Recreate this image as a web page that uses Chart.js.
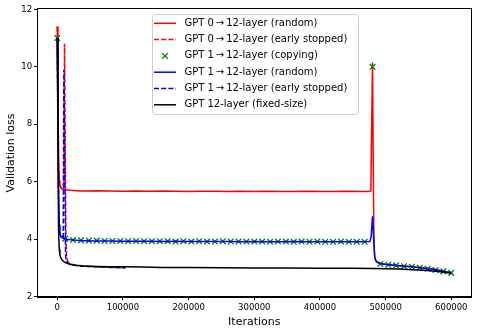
<!DOCTYPE html>
<html><head><meta charset="utf-8">
<script src="https://cdn.jsdelivr.net/npm/chart.js@4/dist/chart.umd.min.js"></script>
<style>html,body{margin:0;padding:0;background:#fff}</style>
</head><body>
<canvas id="c" width="478" height="332" style="width:478px;height:332px;display:block"></canvas>
<script>
// ---------------- data ----------------
const legendLabels = [
  'GPT 0\u2009\u2192\u200912-layer (random)',
  'GPT 0\u2009\u2192\u200912-layer (early stopped)',
  'GPT 1\u2009\u2192\u200912-layer (copying)',
  'GPT 1\u2009\u2192\u200912-layer (random)',
  'GPT 1\u2009\u2192\u200912-layer (early stopped)',
  'GPT 12-layer (fixed-size)'
];
const xTicks = [0, 100000, 200000, 300000, 400000, 500000, 600000];
const yTicks = [2, 4, 6, 8, 10, 12];

// GPT 0 -> 12-layer (random)
const itersRed = [0, 1000, 2000, 3000, 4000, 6000, 8000, 10000, 15000, 20000, 30000, 40000, 60000, 80000, 100000, 120000, 140000, 160000, 180000, 200000, 220000, 240000, 260000, 280000, 300000, 320000, 340000, 360000, 380000, 400000, 420000, 440000, 460000, 474000, 477500, 480000, 482000, 483000, 484000, 486000, 490000, 500000, 510000, 520000, 530000, 540000, 550000, 560000, 570000, 580000, 590000, 600000];
const lossRed  = [11.4, 8.9, 6.6, 6.05, 5.88, 5.78, 5.74, 5.72, 5.71, 5.70, 5.69, 5.68, 5.69, 5.68, 5.67, 5.68, 5.67, 5.68, 5.67, 5.66, 5.67, 5.67, 5.66, 5.67, 5.66, 5.67, 5.66, 5.66, 5.67, 5.66, 5.66, 5.67, 5.66, 5.66, 5.68, 10.15, 4.2, 3.5, 3.3, 3.22, 3.17, 3.13, 3.10, 3.08, 3.06, 3.04, 3.02, 2.99, 2.96, 2.92, 2.88, 2.83];

// GPT 0 -> 12-layer (early stopped)
const itersRedES = [0, 1000, 2000, 3000, 4000, 6000, 8000, 10000, 11000, 12000, 13000, 14000, 16000, 20000, 25000, 30000, 40000, 50000, 60000, 70000, 80000, 90000, 102000];
const lossRedES  = [11.4, 8.9, 6.6, 6.05, 5.88, 5.78, 5.74, 5.72, 10.8, 7.5, 4.4, 3.38, 3.22, 3.14, 3.11, 3.09, 3.07, 3.05, 3.04, 3.03, 3.03, 3.02, 3.01];

// GPT 1 -> 12-layer (copying)  (markers only)
const itersCopy = [0, 12000, 24000, 36000, 48000, 60000, 72000, 84000, 96000, 108000, 120000, 132000, 144000, 156000, 168000, 180000, 192000, 204000, 216000, 228000, 240000, 252000, 264000, 276000, 288000, 300000, 312000, 324000, 336000, 348000, 360000, 372000, 384000, 396000, 408000, 420000, 432000, 444000, 456000, 468000, 480000, 492000, 504000, 516000, 528000, 540000, 552000, 564000, 576000, 588000, 600000];
const lossCopy  = [11.0, 4.02, 3.97, 3.96, 3.95, 3.95, 3.94, 3.94, 3.94, 3.93, 3.94, 3.93, 3.93, 3.93, 3.93, 3.92, 3.93, 3.92, 3.93, 3.92, 3.92, 3.93, 3.92, 3.92, 3.92, 3.92, 3.92, 3.91, 3.92, 3.92, 3.91, 3.92, 3.91, 3.92, 3.91, 3.91, 3.92, 3.91, 3.91, 3.91, 10.0, 3.14, 3.11, 3.09, 3.06, 3.04, 3.01, 2.97, 2.93, 2.88, 2.83];

// GPT 1 -> 12-layer (random)
const itersBlue = [0, 1000, 2000, 3000, 4000, 5000, 6000, 8000, 10000, 14000, 20000, 30000, 40000, 60000, 80000, 100000, 120000, 140000, 160000, 180000, 200000, 220000, 240000, 260000, 280000, 300000, 320000, 340000, 360000, 380000, 400000, 420000, 440000, 460000, 476000, 478000, 480000, 482000, 483500, 486000, 490000, 500000, 510000, 520000, 530000, 540000, 550000, 560000, 570000, 580000, 590000, 600000];
const lossBlue  = [11.0, 8.0, 5.5, 4.5, 4.2, 4.12, 4.08, 4.04, 4.02, 4.0, 3.98, 3.96, 3.95, 3.94, 3.94, 3.93, 3.93, 3.93, 3.92, 3.93, 3.92, 3.92, 3.92, 3.92, 3.91, 3.92, 3.91, 3.91, 3.92, 3.91, 3.91, 3.91, 3.91, 3.91, 3.92, 4.1, 4.8, 3.9, 3.35, 3.22, 3.16, 3.12, 3.10, 3.08, 3.06, 3.04, 3.02, 2.99, 2.96, 2.92, 2.88, 2.83];

// GPT 1 -> 12-layer (early stopped)
const itersBlueES = [0, 1000, 2000, 3000, 4000, 5000, 6000, 8000, 9000, 10000, 11000, 12000, 12500, 13000, 14000, 16000, 20000, 25000, 30000, 40000, 50000, 60000, 70000, 80000, 90000, 104000];
const lossBlueES  = [11.0, 8.0, 5.5, 4.5, 4.2, 4.12, 4.08, 4.05, 4.04, 9.9, 8.0, 5.0, 3.6, 3.35, 3.24, 3.18, 3.13, 3.10, 3.08, 3.06, 3.05, 3.04, 3.03, 3.02, 3.02, 3.0];

// GPT 12-layer (fixed-size)
const itersBlack = [0, 1000, 2000, 3000, 4000, 6000, 8000, 10000, 13000, 16000, 20000, 25000, 30000, 40000, 50000, 60000, 80000, 100000, 130000, 160000, 200000, 250000, 300000, 350000, 400000, 450000, 480000, 500000, 520000, 540000, 560000, 580000, 600000];
const lossBlack  = [11.0, 7.2, 4.2, 3.65, 3.45, 3.32, 3.26, 3.22, 3.18, 3.15, 3.12, 3.10, 3.09, 3.07, 3.06, 3.05, 3.04, 3.04, 3.03, 3.02, 3.02, 3.01, 3.0, 3.0, 2.99, 2.99, 2.98, 2.97, 2.96, 2.94, 2.92, 2.88, 2.82];

// ---------------- chart ----------------
const pts = (xs, ys) => xs.map((x, i) => ({x: x, y: ys[i]}));
const FONT = "'DejaVu Sans', sans-serif";
const LW = 1.5;
const DASH = [5, 2.2];

const datasets = [
  {label: legendLabels[0], data: pts(itersRed, lossRed), borderColor: '#ff0000', borderWidth: LW, pointRadius: 0, order: 6},
  {label: legendLabels[1], data: pts(itersRedES, lossRedES), borderColor: '#ff0000', borderWidth: LW, borderDash: DASH, pointRadius: 0, order: 5},
  {label: legendLabels[2], data: pts(itersCopy, lossCopy), showLine: false, pointStyle: 'crossRot', pointRadius: 4, borderColor: '#008000', backgroundColor: '#008000', pointBorderWidth: 1.3, order: 4},
  {label: legendLabels[3], data: pts(itersBlue, lossBlue), borderColor: '#0000ff', borderWidth: LW, pointRadius: 0, order: 3},
  {label: legendLabels[4], data: pts(itersBlueES, lossBlueES), borderColor: '#0000ff', borderWidth: LW, borderDash: DASH, pointRadius: 0, order: 2},
  {label: legendLabels[5], data: pts(itersBlack, lossBlack), borderColor: '#000000', borderWidth: LW, pointRadius: 0, order: 1}
];

const spinePlugin = {
  id: 'spines',
  afterDatasetsDraw(chart) {
    const {ctx, chartArea: a} = chart;
    ctx.save();
    ctx.strokeStyle = '#000';
    ctx.lineWidth = 1;
    ctx.strokeRect(Math.round(a.left) - 0.5, Math.round(a.top) - 0.5, Math.round(a.right) - Math.round(a.left) + 1, Math.round(a.bottom) - Math.round(a.top) + 1);
    ctx.restore();
  }
};

const legendPlugin = {
  id: 'mplLegend',
  afterDraw(chart) {
    const ctx = chart.ctx;
    ctx.save();
    const x0 = 152.5, y0 = 14.5, w = 206, h = 100, r = 3;
    ctx.beginPath();
    ctx.moveTo(x0 + r, y0);
    ctx.arcTo(x0 + w, y0, x0 + w, y0 + h, r);
    ctx.arcTo(x0 + w, y0 + h, x0, y0 + h, r);
    ctx.arcTo(x0, y0 + h, x0, y0, r);
    ctx.arcTo(x0, y0, x0 + w, y0, r);
    ctx.closePath();
    ctx.fillStyle = 'rgba(255,255,255,0.8)';
    ctx.fill();
    ctx.strokeStyle = '#cccccc';
    ctx.lineWidth = 1;
    ctx.stroke();
    const rowY = [23.3, 39.6, 55.9, 72.2, 88.5, 104.8];
    datasets.forEach((ds, i) => {
      const y = rowY[i];
      if (ds.showLine === false) {
        const cx = 165, d = 2.8;
        ctx.strokeStyle = ds.borderColor;
        ctx.lineWidth = 1.3;
        ctx.setLineDash([]);
        ctx.beginPath();
        ctx.moveTo(cx - d, y - d); ctx.lineTo(cx + d, y + d);
        ctx.moveTo(cx - d, y + d); ctx.lineTo(cx + d, y - d);
        ctx.stroke();
      } else {
        ctx.strokeStyle = ds.borderColor;
        ctx.lineWidth = LW;
        ctx.setLineDash(ds.borderDash || []);
        ctx.beginPath();
        ctx.moveTo(154, y); ctx.lineTo(176, y);
        ctx.stroke();
      }
      ctx.setLineDash([]);
      ctx.fillStyle = '#000';
      ctx.font = '10px ' + FONT;
      ctx.textBaseline = 'middle';
      ctx.textAlign = 'left';
      ctx.fillText(ds.label, 184.4, y);
    });
    ctx.restore();
  }
};

new Chart(document.getElementById('c'), {
  type: 'line',
  data: {datasets: datasets},
  options: {
    responsive: false,
    animation: false,
    devicePixelRatio: 1,
    elements: {line: {tension: 0, fill: false}},
    layout: {padding: {top: 9.3, right: 7, bottom: 0, left: 0}},
    plugins: {legend: {display: false}, tooltip: {enabled: false}},
    scales: {
      x: {
        type: 'linear', min: -30000, max: 630000,
        afterBuildTicks: (s) => { s.ticks = xTicks.map(v => ({value: v})); },
        afterFit: (s) => { s.height = 35.3; },
        ticks: {color: '#000', font: {family: FONT, size: 8.5}, padding: 2, maxRotation: 0, autoSkip: false,
          callback: (v) => String(v)},
        grid: {display: true, drawOnChartArea: false, drawTicks: true, tickLength: 3.5, color: '#000'},
        border: {display: true, color: '#000'},
        title: {display: true, text: 'Iterations', color: '#000', font: {family: FONT, size: 11}, padding: {top: 0, bottom: 3}}
      },
      y: {
        type: 'linear', min: 2, max: 12,
        afterBuildTicks: (s) => { s.ticks = yTicks.map(v => ({value: v})); },
        afterFit: (s) => { s.width = 37.6; },
        ticks: {color: '#000', font: {family: FONT, size: 8.5}, padding: 2,
          callback: (v) => String(v)},
        grid: {display: true, drawOnChartArea: false, drawTicks: true, tickLength: 3.5, color: '#000'},
        border: {display: true, color: '#000'},
        title: {display: true, text: 'Validation loss', color: '#000', font: {family: FONT, size: 11}, padding: {top: 5, bottom: 0}}
      }
    }
  },
  plugins: [spinePlugin, legendPlugin]
});
</script>
</body></html>
